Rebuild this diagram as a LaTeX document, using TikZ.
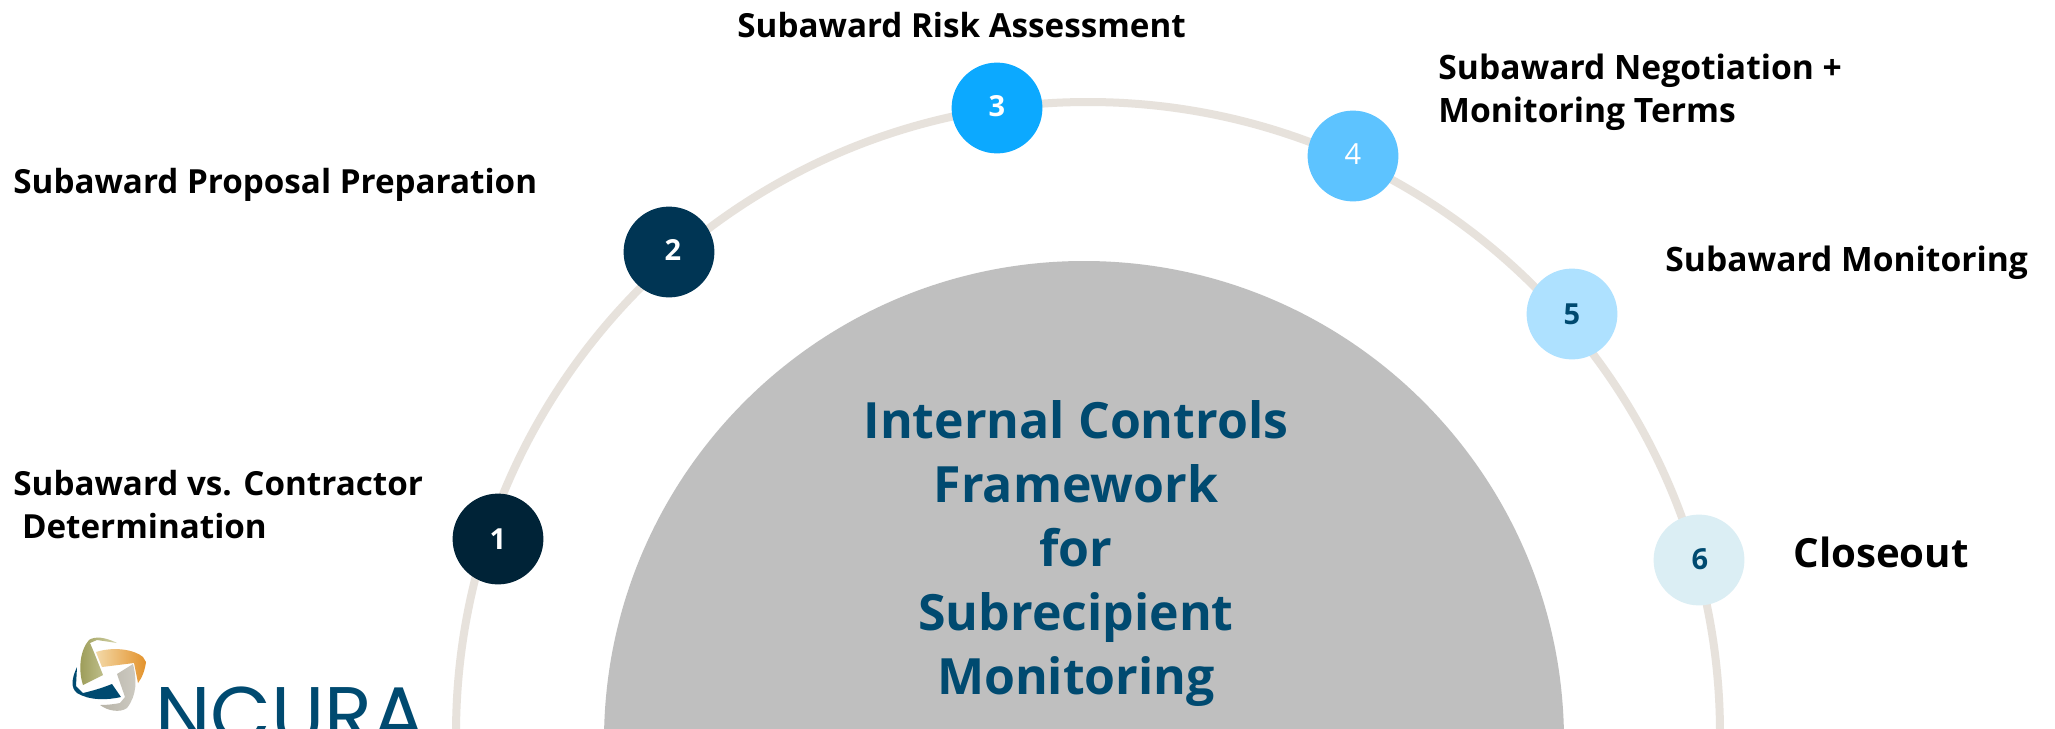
\documentclass[tikz,border=0pt]{standalone}
\usepackage{fontspec}
\setmainfont{Open Sans}[BoldFont={Open Sans Bold}]
\newfontfamily\logofont{Poppins}
\usetikzlibrary{calc}
\definecolor{arcgrey}{HTML}{E7E2DC}
\definecolor{halfgrey}{HTML}{BFBFBF}
\definecolor{navy}{HTML}{004A70}
\definecolor{cA}{HTML}{002337}
\definecolor{cB}{HTML}{003554}
\definecolor{cC}{HTML}{0CA9FF}
\definecolor{cD}{HTML}{5DC3FF}
\definecolor{cE}{HTML}{AEE1FF}
\definecolor{cF}{HTML}{DBEEF4}
\definecolor{lgolive}{HTML}{9A9A55}
\definecolor{lgoliveL}{HTML}{D2D2A8}
\definecolor{lgorange}{HTML}{E3922B}
\definecolor{lgorangeL}{HTML}{F3D9A8}
\definecolor{lggrey}{HTML}{B8B4A8}
\tikzset{
  x=0.5pt,y=-0.5pt,
  stepdot/.style={circle,minimum size=45.4pt,inner sep=0pt},
  stepnum/.style={inner sep=0pt,font=\fontsize{14.5}{16}\selectfont\bfseries},
  steplabel/.style={anchor=west,align=left,inner sep=0pt,text=black,font=\fontsize{16.6}{21.5}\selectfont\bfseries},
}
\begin{document}
\begin{tikzpicture}
\useasboundingbox (0,0) rectangle (2055,728);
\clip (0,0) rectangle (2055,728);
\fill[white] (0,0) rectangle (2055,728);
\coordinate (arcc) at (1087,734);
\draw[arcgrey,line width=4pt] (456,734) arc[start angle=180,end angle=0,radius=316pt];
\fill[halfgrey] (604,741) arc[start angle=180,end angle=0,radius=240pt] -- cycle;
\node[font=\fontsize{25}{32}\selectfont\bfseries,text=navy,align=center,inner sep=0pt] (title) at (1076,554)
 {Internal Controls\\Framework\\for\\Subrecipient\\Monitoring};
\node[stepdot,fill=cA] (n1) at (498,539) {};
\node[stepdot,fill=cB] (n2) at (669,252) {};
\node[stepdot,fill=cC] (n3) at (997,108) {};
\node[stepdot,fill=cD] (n4) at (1353,156) {};
\node[stepdot,fill=cE] (n5) at (1572,314) {};
\node[stepdot,fill=cF] (n6) at (1699,560) {};
\node[stepnum,text=white] (d1) at (498,539) {1};
\node[stepnum,text=white] (d2) at (673,250) {2};
\node[stepnum,text=white] (d3) at (997,106) {3};
\node[stepnum,text=white,font=\fontsize{14.5}{16}\selectfont] (d4) at (1353,154) {4};
\node[stepnum,text=navy] (d5) at (1572,314) {5};
\node[stepnum,text=navy] (d6) at (1700,559) {6};
\node[steplabel] (l1) at (13,505) {Subaward vs. Contractor\\\ Determination};
\node[steplabel] (l2) at (13,185) {Subaward Proposal Preparation};
\node[steplabel] (l3) at (737,25) {Subaward Risk Assessment};
\node[steplabel,font=\fontsize{16.8}{21.5}\selectfont\bfseries] (l4) at (1438,92) {Subaward Negotiation +\\Monitoring Terms};
\node[steplabel,font=\fontsize{16.8}{21.5}\selectfont\bfseries] (l5) at (1665,263) {Subaward Monitoring};
\node[steplabel,font=\fontsize{20.1}{25}\selectfont\bfseries] (l6) at (1793,552) {Closeout};
% logo
\path[left color=lgolive,right color=lgoliveL] (117,643) .. controls (105,637) and (95,636) .. (89,640) .. controls (80,650) and (78,670) .. (83,685) -- (103,675) .. controls (99,665) and (94,652) .. (90,643) -- (97,640) -- cycle;
\path[left color=lgorangeL,right color=lgorange] (96,652) .. controls (115,646) and (135,650) .. (143,657) -- (146,662) .. controls (145,670) and (142,678) .. (138,683) -- (134,663) -- (102,667) -- cycle;
\path[left color=lggrey,right color=lggrey!70!white] (117,674) -- (133,664) .. controls (137,680) and (137,695) .. (127,708) .. controls (120,713) and (108,711) .. (100,705) .. controls (108,705) and (115,704) .. (120,703) -- (125,697) -- cycle;
\fill[navy] (77,667) .. controls (71,680) and (71,688) .. (77,693) .. controls (90,701) and (108,700) .. (121,697) -- (112,684) .. controls (102,688) and (92,691) .. (83,693) -- (76,686) -- cycle;
\node[anchor=base west,inner sep=0pt,text=navy,font=\fontsize{39.4}{39}\selectfont\logofont] (logo) at (155,742) {NCURA};
\end{tikzpicture}
\end{document}
